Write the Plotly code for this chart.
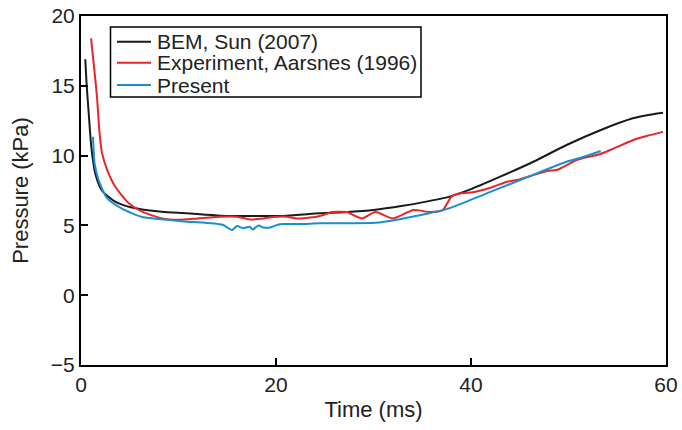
import plotly.graph_objects as go

# BEM, Sun (2007)
bem_t = [0.44, 0.58, 0.79, 1.06, 1.47, 2.15, 3.5, 5.2, 8.3, 10.8, 14.3, 17.7, 21.1, 24.5,
         27.0, 30.0, 33.0, 35.0, 37.8, 40.0, 43.0, 46.4, 49.8, 53.2, 56.6, 58.5, 59.7]
bem_p = [16.9, 15.06, 13.05, 10.6, 8.7, 7.5, 6.7, 6.28, 5.97, 5.87, 5.7, 5.67, 5.7, 5.87,
         5.95, 6.1, 6.4, 6.65, 7.06, 7.6, 8.49, 9.56, 10.76, 11.8, 12.67, 12.95, 13.07]

# Experiment, Aarsnes (1996)
exp_t = [1.03, 1.3, 1.64, 1.88, 2.15, 2.67, 3.52, 4.9, 6.26, 8.3, 10.0, 12.0, 14.3, 16.0, 17.3, 18.7, 19.7,
         21.1, 22.1, 24.2, 25.8, 27.3, 27.6, 28.8, 30.2, 32.0, 34.1, 35.8, 37.1, 38.0, 38.9,
         40.2, 42.0, 43.7, 44.7, 46.4, 47.8, 48.8, 50.9, 53.2, 54.6, 56.6, 58.0, 59.7]
exp_p = [18.4, 16.6, 14.2, 11.8, 10.2, 9.0, 7.77, 6.58, 5.98, 5.5, 5.4, 5.5, 5.62, 5.62, 5.43, 5.5, 5.6,
         5.62, 5.5, 5.62, 5.96, 5.96, 5.85, 5.5, 5.96, 5.5, 6.1, 5.96, 6.1, 7.06, 7.3,
         7.38, 7.7, 8.13, 8.25, 8.6, 8.9, 8.97, 9.7, 10.1, 10.5, 11.1, 11.4, 11.7]

# Present
pre_t = [1.23, 1.4, 1.8, 2.67, 4.2, 6.26, 9.1, 10.8, 12.5, 14.6, 14.9, 15.5, 16.0, 16.6,
         17.3, 17.6, 18.2, 18.7, 19.4, 20.2, 20.7, 22.5, 24.5, 30.2, 32.3, 35.7, 37.4, 39.1,
         42.5, 45.9, 47.6, 49.8, 51.5, 53.3]
pre_p = [11.35, 9.44, 8.25, 6.95, 6.2, 5.6, 5.39, 5.27, 5.2, 5.03, 4.9, 4.67, 4.95, 4.8,
         4.9, 4.7, 5.0, 4.85, 4.85, 5.05, 5.1, 5.1, 5.15, 5.19, 5.39, 5.87, 6.15, 6.58,
         7.54, 8.49, 8.97, 9.56, 9.9, 10.33]

x_ticks = [0, 20, 40, 60]
y_ticks = [-5, 0, 5, 10, 15, 20]

series_names = ["BEM, Sun (2007)", "Experiment, Aarsnes (1996)", "Present"]
series_colors = ["#1a1a1a", "#e8252a", "#1a8fd0"]

FONT = "Liberation Sans, Arial, sans-serif"
TXT = "#222222"

fig = go.Figure()
for t, p, name, col in zip([bem_t, exp_t, pre_t], [bem_p, exp_p, pre_p], series_names, series_colors):
    fig.add_trace(go.Scatter(x=t, y=p, mode="lines", name=name, showlegend=False,
                             line=dict(color=col, width=2, shape="spline", smoothing=0.6)))

axis_common = dict(showgrid=False, zeroline=False, showline=True, linecolor="black",
                   linewidth=2, mirror=True, ticks="inside", ticklen=7, tickwidth=1.5,
                   tickcolor="black", tickfont=dict(size=21, color=TXT), automargin=False)

fig.update_xaxes(range=[0, 60], tickvals=x_ticks,
                 title=dict(text="Time (ms)", font=dict(size=22, color=TXT), standoff=6),
                 **axis_common)
fig.update_yaxes(range=[-5, 20], tickvals=y_ticks,
                 title=dict(text="Pressure (kPa)", font=dict(size=22, color=TXT), standoff=16),
                 **axis_common)

# Legend drawn in paper coordinates (box, line samples, text)
L, W, B, H = 81, 585, 365, 349  # plot-area pixel frame
def px(x):
    return (x - L) / W
def py(y):
    return (B - y) / H

fig.add_shape(type="rect", xref="paper", yref="paper",
              x0=px(110.5), x1=px(421), y0=py(97), y1=py(27),
              line=dict(color="black", width=1.5), fillcolor="white", layer="above")
rows = [41.7, 62.7, 85]
for name, col, ry in zip(series_names, series_colors, rows):
    fig.add_shape(type="line", xref="paper", yref="paper",
                  x0=px(117), x1=px(151), y0=py(ry), y1=py(ry),
                  line=dict(color=col, width=2), layer="above")
    fig.add_annotation(xref="paper", yref="paper", x=px(155), y=py(ry),
                       xanchor="left", yanchor="middle", text=name, showarrow=False,
                       font=dict(size=21, color=TXT, family=FONT))

fig.update_layout(
    width=682, height=430,
    margin=dict(l=81, r=16, t=16, b=65),
    plot_bgcolor="white", paper_bgcolor="white",
    font=dict(family=FONT, size=21, color=TXT),
    showlegend=False,
)

fig.write_html("out.html")
